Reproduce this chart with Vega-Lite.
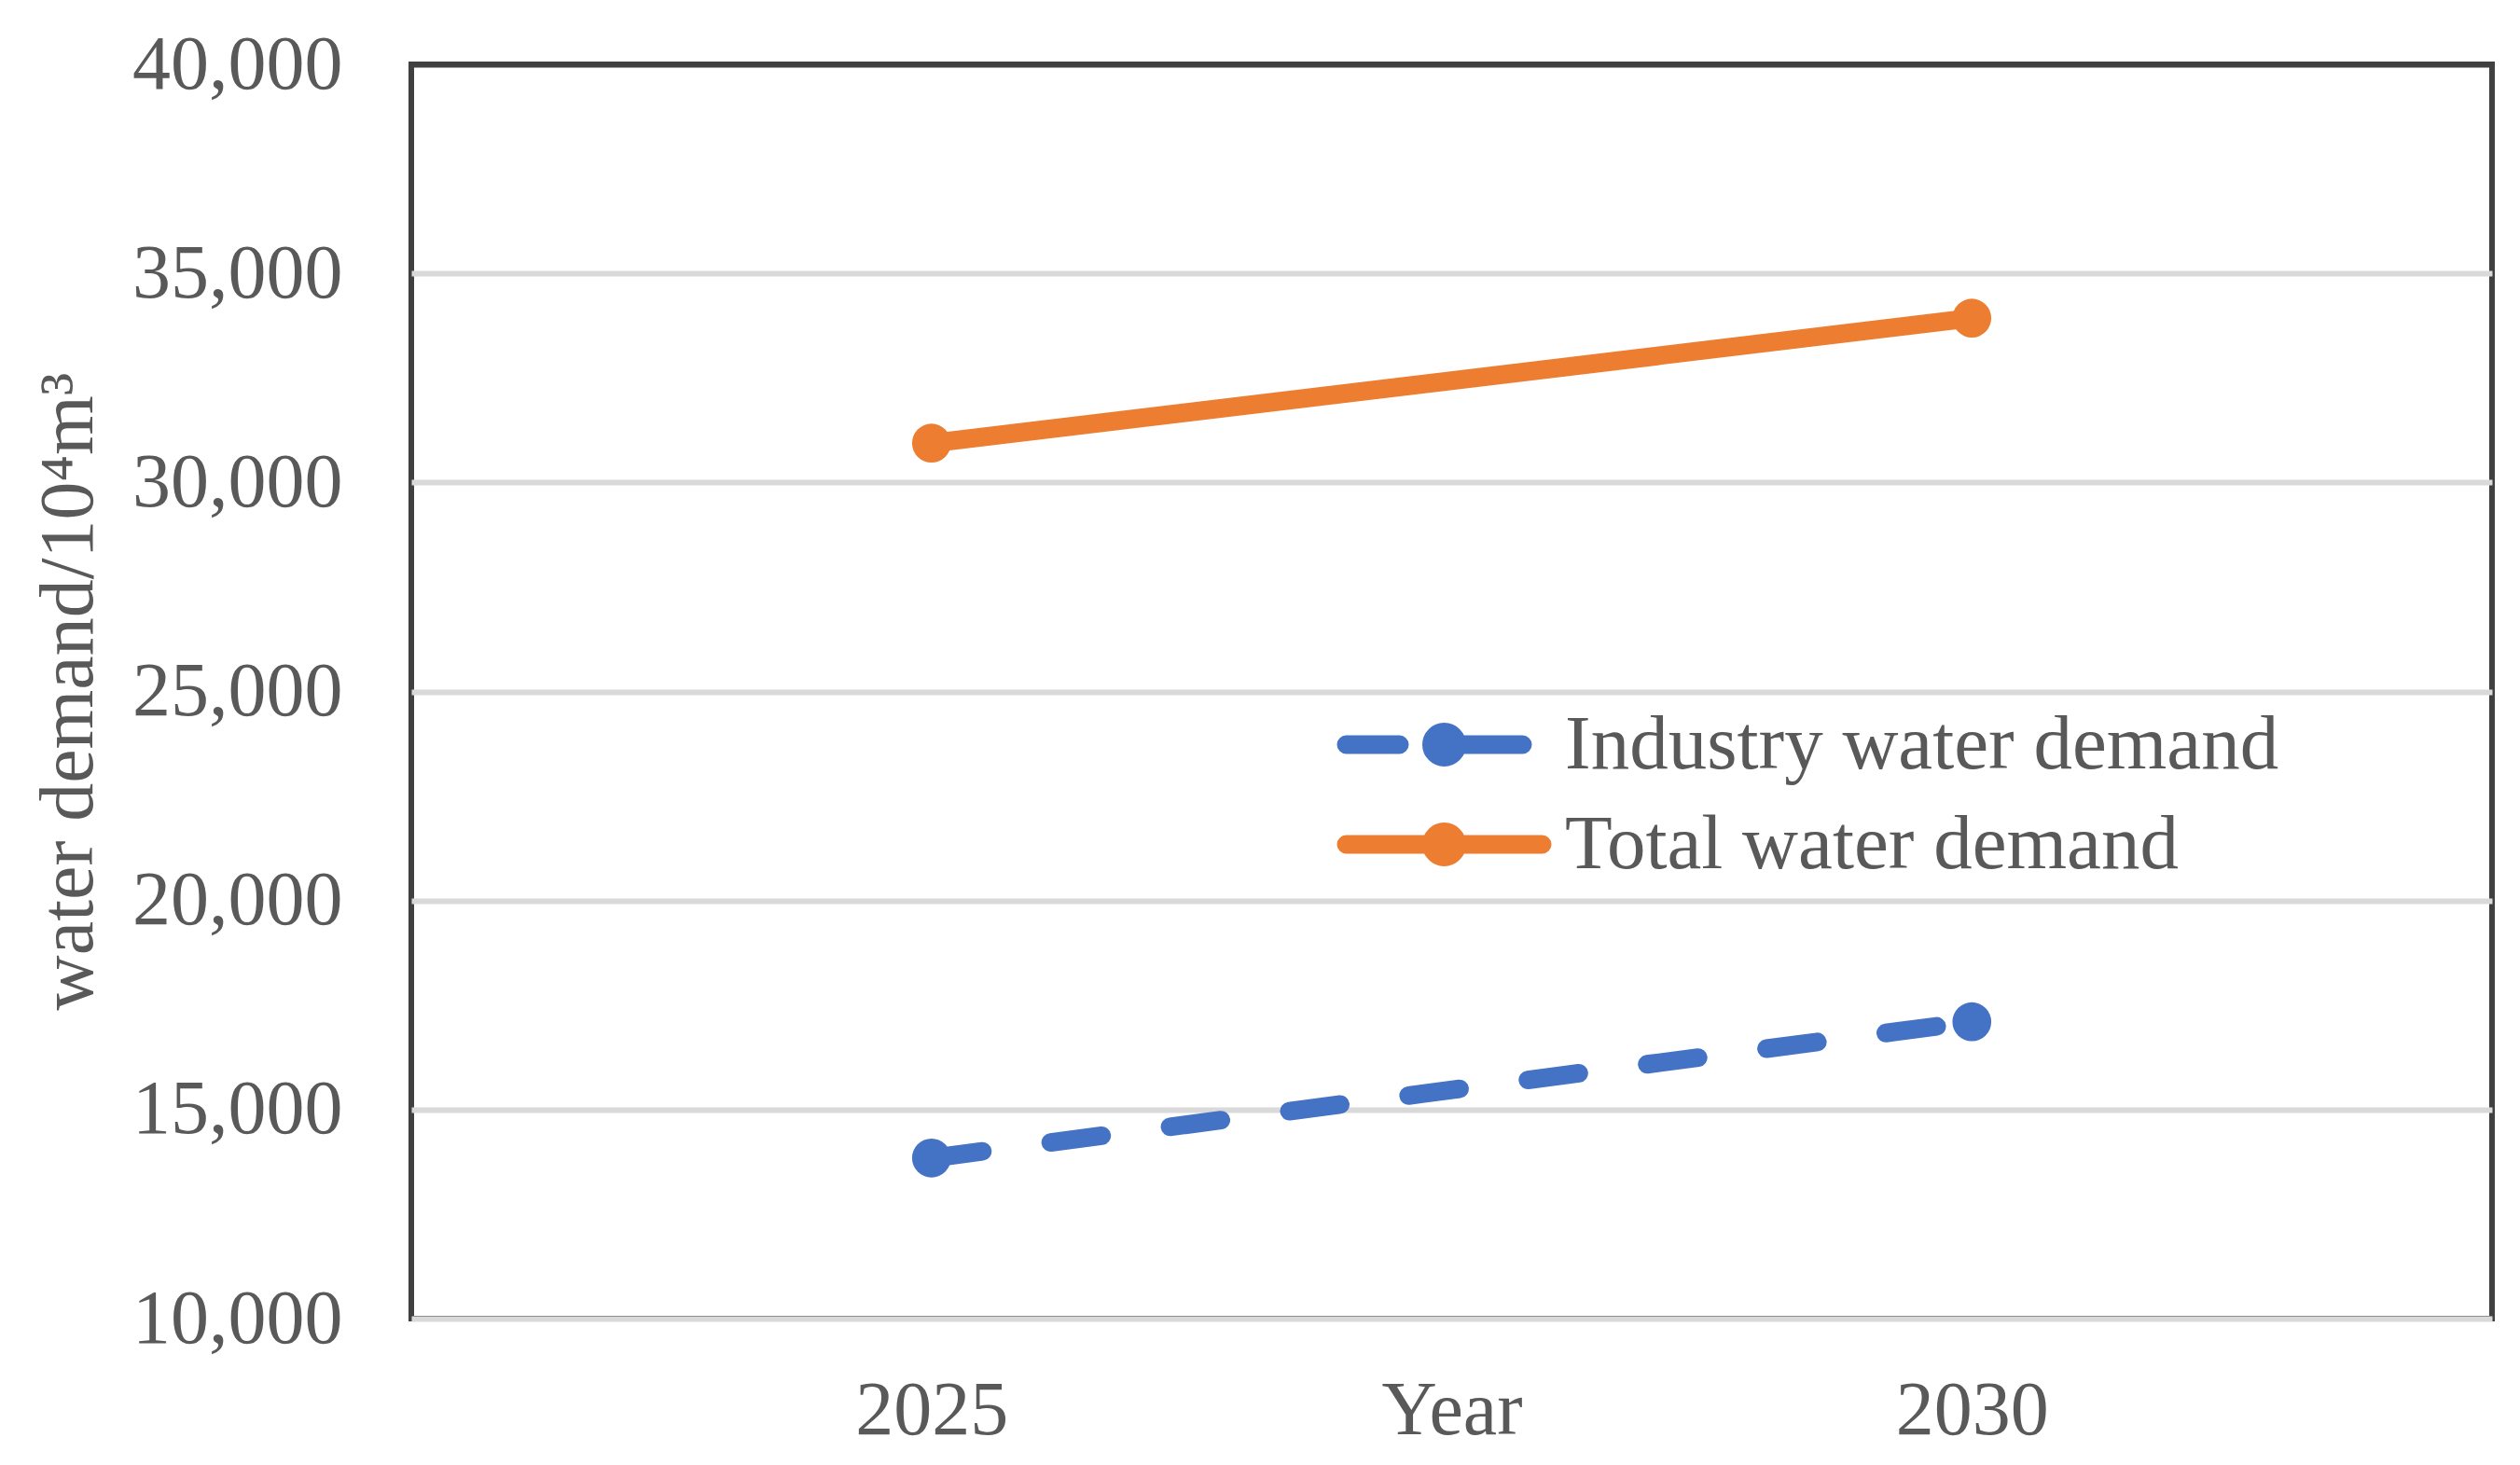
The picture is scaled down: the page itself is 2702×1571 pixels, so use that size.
{
  "$schema": "https://vega.github.io/schema/vega-lite/v6.json",
  "width": 2231,
  "height": 1345,
  "autosize": {"type": "none"},
  "padding": {"left": 441, "top": 69, "right": 30, "bottom": 157},
  "background": "white",
  "config": {
    "font": "Liberation Serif",
    "view": {"stroke": "#404040", "strokeWidth": 6},
    "axis": {
      "labelFont": "Liberation Serif",
      "titleFont": "Liberation Serif",
      "labelColor": "#595959",
      "titleColor": "#595959",
      "labelFontSize": 82,
      "titleFontSize": 82,
      "titleFontWeight": "normal",
      "labelLimit": 0,
      "ticks": false,
      "tickSize": 0
    }
  },
  "data": {
    "values": [
      {"year": "2025", "series": "Industry water demand", "value": 13840},
      {"year": "2030", "series": "Industry water demand", "value": 17100},
      {"year": "2025", "series": "Total water demand", "value": 30940},
      {"year": "2030", "series": "Total water demand", "value": 33930}
    ]
  },
  "encoding": {
    "x": {
      "field": "year",
      "type": "ordinal",
      "scale": {"type": "point", "padding": 0.5},
      "axis": {
        "title": "Year",
        "labelAngle": 0,
        "labelPadding": 58,
        "labelBaseline": "top",
        "domain": false,
        "grid": false,
        "titleY": 123,
        "titleBaseline": "alphabetic"
      }
    },
    "y": {
      "field": "value",
      "type": "quantitative",
      "scale": {"domain": [10000, 40000], "nice": false, "zero": false},
      "axis": {
        "title": "water demand/10⁴m³",
        "values": [10000, 15000, 20000, 25000, 30000, 35000, 40000],
        "format": ",d",
        "labelPadding": 74,
        "domain": false,
        "grid": true,
        "gridColor": {"condition": {"test": "datum.value === 40000", "value": "#404040"}, "value": "#D9D9D9"},
        "gridWidth": 6,
        "titleAngle": -90,
        "titleX": -343,
        "titleY": 672,
        "titleAlign": "center",
        "titleBaseline": "alphabetic"
      }
    },
    "color": {
      "field": "series",
      "type": "nominal",
      "scale": {"domain": ["Industry water demand", "Total water demand"], "range": ["#4472C4", "#ED7D31"]},
      "legend": {
        "title": null,
        "orient": "none",
        "legendX": 1066,
        "legendY": 688,
        "padding": 0,
        "symbolType": "M-4.2,0L4.2,0",
        "symbolSize": 2500,
        "symbolStrokeWidth": 20,
        "labelFont": "Liberation Serif",
        "labelFontSize": 83,
        "labelColor": "#595959",
        "labelLimit": 0,
        "labelOffset": 88,
        "rowPadding": 0,
        "encode": {
          "symbols": {
            "update": {
              "shape": {"signal": "datum.value === 'Industry water demand' ? 'M-4.2,0L-1.92,0M0,0L3.36,0M0.54,0A0.54,0.54,0,1,1,-0.54,0A0.54,0.54,0,1,1,0.54,0Z' : 'M-4.2,0L4.2,0M0.54,0A0.54,0.54,0,1,1,-0.54,0A0.54,0.54,0,1,1,0.54,0Z'"},
              "fill": {"scale": "color", "field": "value"},
              "stroke": {"scale": "color", "field": "value"},
              "strokeWidth": {"value": 20},
              "strokeCap": {"value": "round"},
              "opacity": {"value": 1}
            }
          }
        }
      }
    }
  },
  "layer": [
    {
      "transform": [{"filter": "datum.series === 'Industry water demand'"}],
      "mark": {"type": "line", "strokeWidth": 20, "strokeDash": [55, 74], "strokeCap": "round"}
    },
    {
      "transform": [{"filter": "datum.series === 'Total water demand'"}],
      "mark": {"type": "line", "strokeWidth": 20}
    },
    {
      "mark": {"type": "point", "filled": true, "size": 1735, "opacity": 1}
    }
  ]
}
